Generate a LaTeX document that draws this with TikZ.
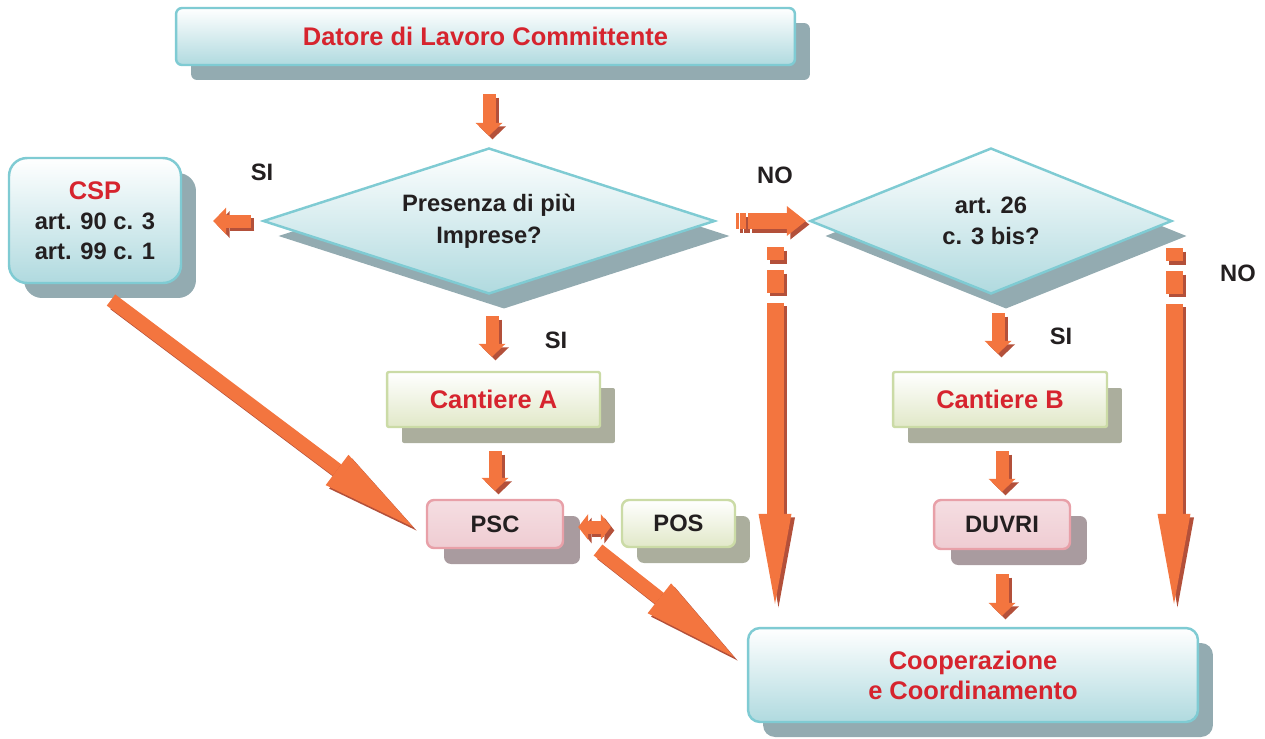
\documentclass[tikz,border=0pt]{standalone}
\usepackage{fontspec}
\setmainfont{Liberation Sans}
\usetikzlibrary{arrows.meta,positioning,shapes.geometric,shadows}

\definecolor{tealline}{HTML}{7FCBD3}
\definecolor{tealbot}{HTML}{B0DADF}
\definecolor{tealshade}{HTML}{93ABB1}
\definecolor{greenline}{HTML}{CBDBA6}
\definecolor{greenbot}{HTML}{E1E8C8}
\definecolor{greenshade}{HTML}{ABAE9D}
\definecolor{pinkline}{HTML}{E8A0A8}
\definecolor{pinktop}{HTML}{F5DEE2}
\definecolor{pinkbot}{HTML}{EFCCD2}
\definecolor{pinkshade}{HTML}{A99B9F}
\definecolor{arrorange}{HTML}{F3753F}
\definecolor{arrshadow}{HTML}{B3503A}
\definecolor{titlered}{HTML}{D6242E}
\definecolor{textblack}{HTML}{231F20}

\newcommand{\redtitle}{\fontsize{14.5}{17}\selectfont\bfseries\color{titlered}}
\newcommand{\blacktext}{\fontsize{13.5}{17}\selectfont\bfseries\color{textblack}}
% orange arrow with its dark shadow
\newcommand{\fatarrow}[2]{%
  \draw[#1, draw=arrshadow, transform canvas={shift={(0.07cm,-0.07cm)}}] #2;
  \draw[#1, draw=arrorange] #2;}

\tikzset{
  tealbox/.style={draw=tealline, line width=1.4pt, top color=white, bottom color=tealbot,
    drop shadow={shadow xshift=0.3cm, shadow yshift=-0.3cm, fill=tealshade, opacity=1},
    align=center, font=\blacktext},
  tealdia/.style={diamond, aspect=3, draw=tealline, line width=1.4pt, top color=white, bottom color=tealbot,
    drop shadow={shadow xshift=0.3cm, shadow yshift=-0.3cm, fill=tealshade, opacity=1},
    align=center, inner sep=0pt, font=\blacktext},
  greenbox/.style={draw=greenline, line width=1.4pt, top color=white, bottom color=greenbot,
    drop shadow={shadow xshift=0.3cm, shadow yshift=-0.32cm, fill=greenshade, opacity=1}},
  pinkbox/.style={draw=pinkline, line width=1.4pt, top color=pinktop, bottom color=pinkbot,
    rounded corners=0.14cm, drop shadow={shadow xshift=0.34cm, shadow yshift=-0.32cm, fill=pinkshade, opacity=1},
    font=\blacktext},
  lbl/.style={font=\blacktext},
  smallarr/.style={line width=0.26cm, -{Triangle[length=0.26cm, width=0.54cm, line width=0pt]}},
  midarr/.style={line width=0.32cm, -{Triangle[length=0.38cm, width=0.6cm, line width=0pt]}},
  bigarr/.style={line width=0.34cm, -{Triangle[length=1.8cm, width=0.66cm, line width=0pt]}},
  diagarr/.style={line width=0.28cm, -{Triangle[length=1.9cm, width=0.76cm, line width=0pt]}},
  twoarr/.style={line width=0.26cm, {Triangle[length=0.2cm, width=0.52cm, line width=0pt]}-{Triangle[length=0.2cm, width=0.52cm, line width=0pt]}}
}

\begin{document}
\begin{tikzpicture}[x=0.02cm, y=-0.02cm]
  \useasboundingbox (0,0) rectangle (1265,738);

  \node[tealbox, rounded corners=0.12cm, minimum width=12.38cm, minimum height=1.14cm, font=\redtitle] (datore) at (485.5,36.5) {Datore di Lavoro Committente};
  \node[tealdia, minimum width=9.04cm, minimum height=2.92cm] (dia1) at (489,221) {Presenza di più\\[1pt]Imprese?};
  \node[tealbox, rounded corners=0.36cm, minimum width=3.44cm, minimum height=2.5cm] (csp) at (95,220.5) {{\redtitle CSP}\\art. 90 c. 3\\art. 99 c. 1};
  \node[tealdia, minimum width=7.24cm, minimum height=2.92cm] (dia2) at (991,221) {art. 26\\[1pt]c. 3 bis?};
  \node[greenbox, rounded corners=0.04cm, minimum width=4.26cm, minimum height=1.1cm, font=\redtitle] (cantA) at (493.5,399.5) {Cantiere A};
  \node[greenbox, rounded corners=0.04cm, minimum width=4.28cm, minimum height=1.1cm, font=\redtitle] (cantB) at (1000,399.5) {Cantiere B};
  \node[pinkbox, minimum width=2.72cm, minimum height=0.96cm] (psc) at (495,524) {PSC};
  \node[greenbox, rounded corners=0.14cm, minimum width=2.26cm, minimum height=0.94cm, font=\blacktext] (pos) at (678.5,523.5) {POS};
  \node[pinkbox, minimum width=2.72cm, minimum height=0.98cm] (duvri) at (1002,524.5) {DUVRI};
  \node[tealbox, rounded corners=0.24cm, minimum width=9cm, minimum height=1.88cm, font=\redtitle] (coop) at (973,675) {Cooperazione\\e Coordinamento};

  \node[lbl] (si1) at (262,172) {SI};
  \node[lbl] (no1) at (775,175) {NO};
  \node[lbl] (si2) at (556,340) {SI};
  \node[lbl] (si3) at (1061,336) {SI};
  \node[lbl] (no2) at (1238,273) {NO};

  \coordinate (down1) at (775,247);
  \coordinate (down2) at (1174,248);
  \coordinate (diag1) at (111,300);
  \coordinate (diag1end) at (413,527);
  \coordinate (diag2) at (598,550);
  \coordinate (diag2end) at (734,657);

  \fatarrow{smallarr, shorten <=0.56cm, shorten >=0.22cm}{(dia1.north |- datore.south) -- (dia1.north)}
  \fatarrow{smallarr, shorten <=0.22cm, shorten >=0.62cm}{(dia1.west) -- (csp.east |- dia1.west)}
  \fatarrow{midarr, shorten <=0.4cm, shorten >=0.06cm, dash pattern=on 0.06cm off 0.02cm on 0.12cm off 0.04cm on 3cm off 0cm}{(dia1.east) -- (dia2.west)}
  \fatarrow{bigarr, shorten >=0.46cm, dash pattern=on 0.26cm off 0.2cm on 0.46cm off 0.2cm on 12cm off 0cm}{(down1) -- (down1 |- coop.north)}
  \fatarrow{bigarr, shorten >=0.46cm, dash pattern=on 0.26cm off 0.2cm on 0.46cm off 0.2cm on 12cm off 0cm}{(down2) -- (down2 |- coop.north)}
  \fatarrow{smallarr, shorten <=0.42cm, shorten >=0.28cm}{([xshift=0.06cm]dia1.south) -- ([xshift=0.06cm]dia1.south |- cantA.north)}
  \fatarrow{smallarr, shorten <=0.36cm, shorten >=0.34cm}{([xshift=-0.04cm]cantB.north |- dia2.south) -- ([xshift=-0.04cm]cantB.north)}
  \fatarrow{smallarr, shorten <=0.46cm, shorten >=0.16cm}{(cantA.south -| psc.north) -- (psc.north)}
  \fatarrow{smallarr, shorten <=0.46cm, shorten >=0.14cm}{(cantB.south -| duvri.north) -- (duvri.north)}
  \fatarrow{smallarr, shorten <=0.48cm, shorten >=0.22cm}{(duvri.south) -- (duvri.south |- coop.north)}
  \fatarrow{twoarr, shorten <=0.28cm, shorten >=0.2cm}{([yshift=-0.06cm]psc.east) -- ([yshift=-0.06cm]psc.east -| pos.west)}
  \fatarrow{diagarr}{(diag1) -- (diag1end)}
  \fatarrow{diagarr}{(diag2) -- (diag2end)}
\end{tikzpicture}
\end{document}
